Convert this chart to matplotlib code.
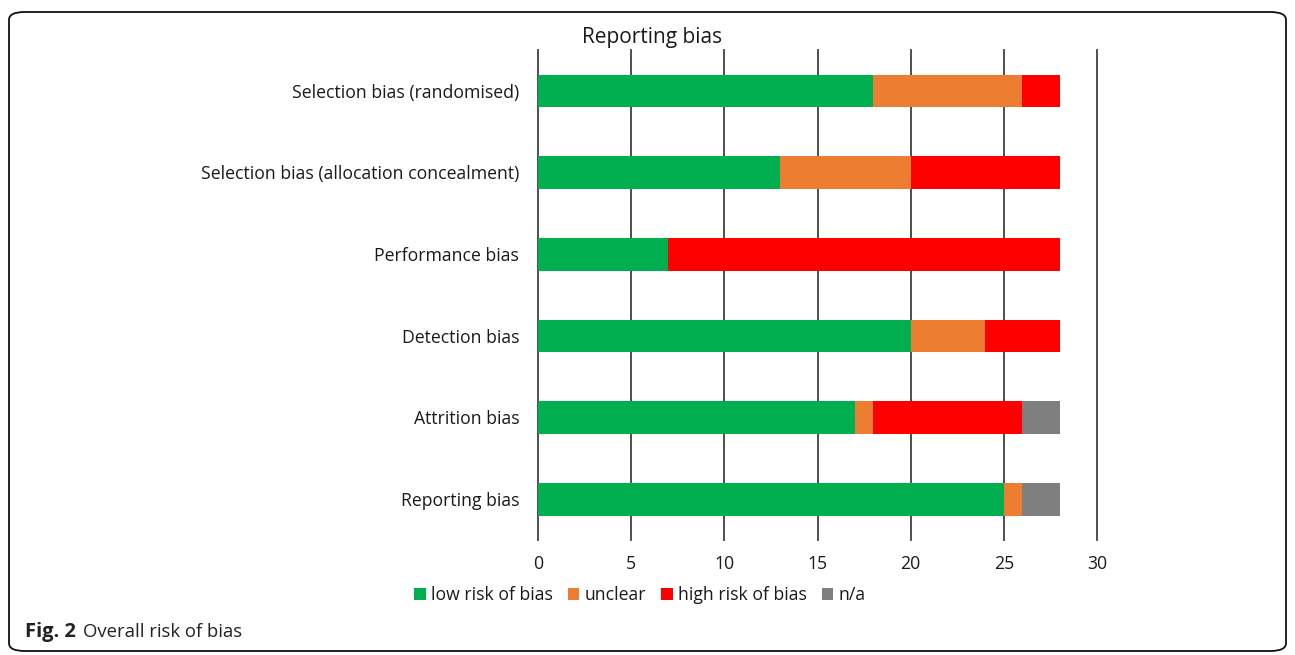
import matplotlib
matplotlib.use("Agg")
import matplotlib.pyplot as plt
from matplotlib.patches import FancyBboxPatch
import numpy as np

plt.rcParams['font.family'] = ['Open Sans', 'DejaVu Sans']

categories = ["Selection bias (randomised)",
              "Selection bias (allocation concealment)",
              "Performance bias",
              "Detection bias",
              "Attrition bias",
              "Reporting bias"]
low_risk = [18, 13, 7, 20, 17, 25]
unclear = [8, 7, 0, 4, 1, 1]
high_risk = [2, 8, 21, 4, 8, 0]
not_applicable = [0, 0, 0, 0, 2, 2]
series_names = ["low risk of bias", "unclear", "high risk of bias", "n/a"]
series_colors = ["#00B050", "#ED7D31", "#FF0000", "#7F7F7F"]
x_ticks = [0, 5, 10, 15, 20, 25, 30]

fig = plt.figure(figsize=(12.95, 6.55), dpi=100)
ax = fig.add_axes([538/1295, 1-540/655, (1097-538)/1295, (540-50)/655])

y = np.arange(len(categories))
left = np.zeros(len(categories))
handles = []
for vals, name, col in zip([low_risk, unclear, high_risk, not_applicable], series_names, series_colors):
    vals = np.array(vals, dtype=float)
    h = ax.barh(y, vals, left=left, height=0.4, color=col, label=name, zorder=3)
    handles.append(h)
    left += vals

ax.set_ylim(len(categories) - 0.5, -0.5)
ax.set_xlim(0, 30)
ax.set_xticks(x_ticks)
ax.set_yticks(y)
ax.set_yticklabels(categories, fontsize=12.7, color='#1a1a1a')
ax.tick_params(axis='x', labelsize=12.7, length=0, pad=11, colors='#1a1a1a')
ax.tick_params(axis='y', length=0, pad=13.5)
for s in ax.spines.values():
    s.set_visible(False)
ax.xaxis.grid(True, color='#404040', linewidth=1.3, zorder=0)
ax.set_axisbelow(True)
for gl in ax.get_xgridlines():
    gl.set_clip_on(False)

fig.text(652/1295, 1-38/655, "Reporting bias", ha='center', va='center', fontsize=15, color='#1a1a1a')

fig.legend(handles=handles, labels=series_names, loc='center', bbox_to_anchor=(640/1295, 1-595/655),
           ncol=4, frameon=False, fontsize=12.7, handlelength=0.65, handleheight=0.65,
           handletextpad=0.3, columnspacing=0.85, labelcolor='#1a1a1a')

fig.text(25/1295, 1-632/655, "Fig. 2", fontsize=14.5, fontweight='bold', color='#222222', va='center', ha='left')
fig.text(83/1295, 1-632/655, "Overall risk of bias", fontsize=13.3, color='#222222', va='center', ha='left')

frame = FancyBboxPatch((9/1295, 1-651/655), (1286-9)/1295, (651-12)/655,
                       boxstyle="round,pad=0,rounding_size=0.012", transform=fig.transFigure,
                       fill=False, edgecolor='#111111', linewidth=1.3)
fig.patches.append(frame)

fig.savefig("out.png", dpi=100)
